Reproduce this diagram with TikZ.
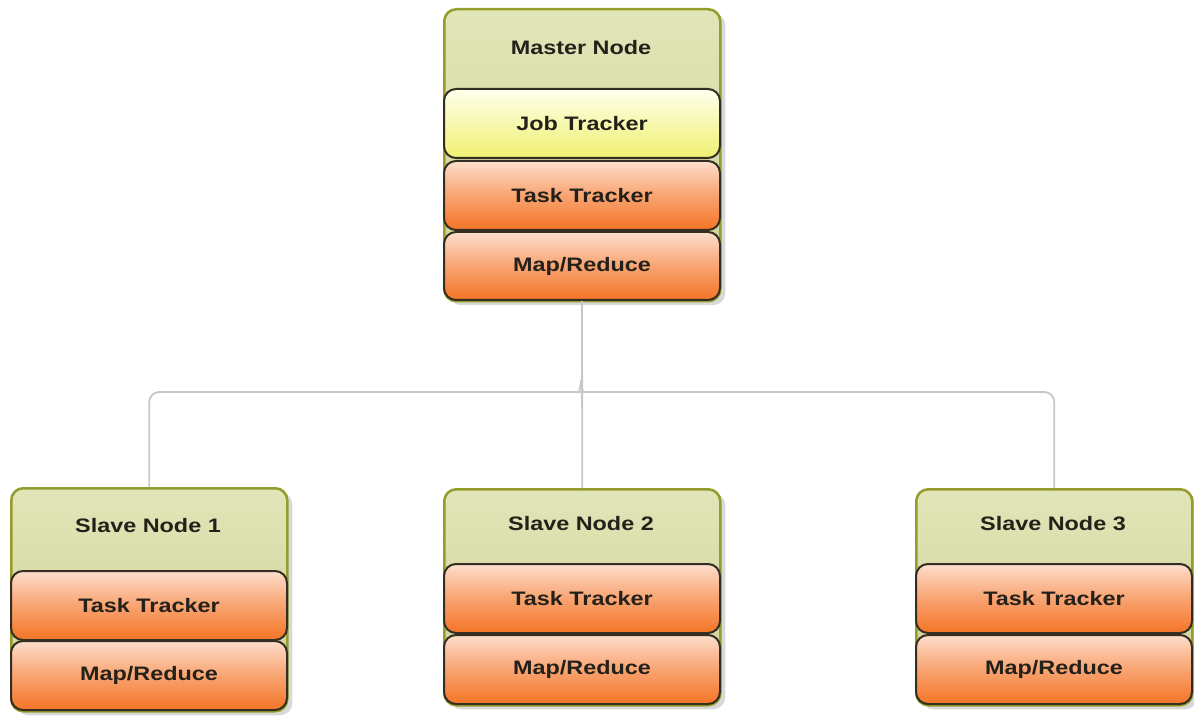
\documentclass[tikz,border=0pt]{standalone}
\usepackage{fontspec}
\setmainfont{Liberation Sans}
\newfontfamily\boxfont[FakeStretch=1.2]{Liberation Sans}
\usepackage{tikz}
\usetikzlibrary{shadows}
\definecolor{olivetop}{RGB}{226,229,184}
\definecolor{olivebot}{RGB}{204,208,146}
\definecolor{oliveedge}{RGB}{148,156,44}
\definecolor{peach}{RGB}{253,222,204}
\definecolor{orangebox}{RGB}{244,116,38}
\definecolor{paleyellow}{RGB}{255,255,238}
\definecolor{yellowbox}{RGB}{240,240,112}
\definecolor{edgedark}{RGB}{52,46,34}
\definecolor{wiregray}{RGB}{200,200,200}
\definecolor{textdark}{RGB}{36,32,26}

\tikzset{
  hostbox/.style={draw=oliveedge, line width=2.5pt, rounded corners=12pt,
    top color=olivetop, bottom color=olivebot, anchor=north west,
    minimum width=276pt, inner sep=0pt,
    drop shadow={opacity=0.3, shadow xshift=5pt, shadow yshift=-4pt}},
  partbox/.style={draw=edgedark, line width=2pt, rounded corners=12pt,
    anchor=north west, minimum width=276pt, minimum height=69pt, inner sep=0pt,
    text=textdark, font=\boxfont\bfseries\fontsize{19.5}{22}\selectfont},
  jobbox/.style={partbox, top color=paleyellow, bottom color=yellowbox},
  taskbox/.style={partbox, top color=peach, bottom color=orangebox,
    middle color=orangebox!55!peach},
  hosttitle/.style={text=textdark, font=\boxfont\bfseries\fontsize{19.5}{22}\selectfont},
  wire/.style={draw=wiregray, line width=1.8pt}
}

\begin{document}
\begin{tikzpicture}[x=1pt,y=-1pt]
\useasboundingbox (0,0) rectangle (1194,719);

% Master node
\node[hostbox, minimum height=292pt] (master) at (443,8) {};
\node[hosttitle] (mastertitle) at (581,48) {Master Node};
\node[jobbox] (mjob) at (443,88) {Job Tracker};
\node[taskbox] (mtask) at (443,160) {Task Tracker};
\node[taskbox, minimum height=68pt] (mmap) at (443,231) {Map/Reduce};

% Slave nodes
\node[hostbox, minimum height=223pt] (s1) at (10,487) {};
\node[hosttitle] (s1title) at (148,526) {Slave Node 1};
\node[taskbox] (s1task) at (10,570) {Task Tracker};
\node[taskbox] (s1map) at (10,640) {Map/Reduce};

\node[hostbox, minimum height=216pt] (s2) at (443,488) {};
\node[hosttitle] (s2title) at (581,524) {Slave Node 2};
\node[taskbox] (s2task) at (443,563) {Task Tracker};
\node[taskbox] (s2map) at (443,634) {Map/Reduce};

\node[hostbox, minimum height=216pt] (s3) at (915,488) {};
\node[hosttitle] (s3title) at (1053,524) {Slave Node 3};
\node[taskbox] (s3task) at (915,563) {Task Tracker};
\node[taskbox] (s3map) at (915,634) {Map/Reduce};

% Connectors
\coordinate (hub) at (581,380);
\draw[wire] (mmap.south) -- (s2.north);
\draw[wire, rounded corners=10pt] (s1.north) |- (570,392) .. controls (578,392) and (581,388) .. (hub);
\draw[wire, rounded corners=10pt] (s3.north) |- (592,392) .. controls (584,392) and (581,388) .. (hub);
\end{tikzpicture}
\end{document}
